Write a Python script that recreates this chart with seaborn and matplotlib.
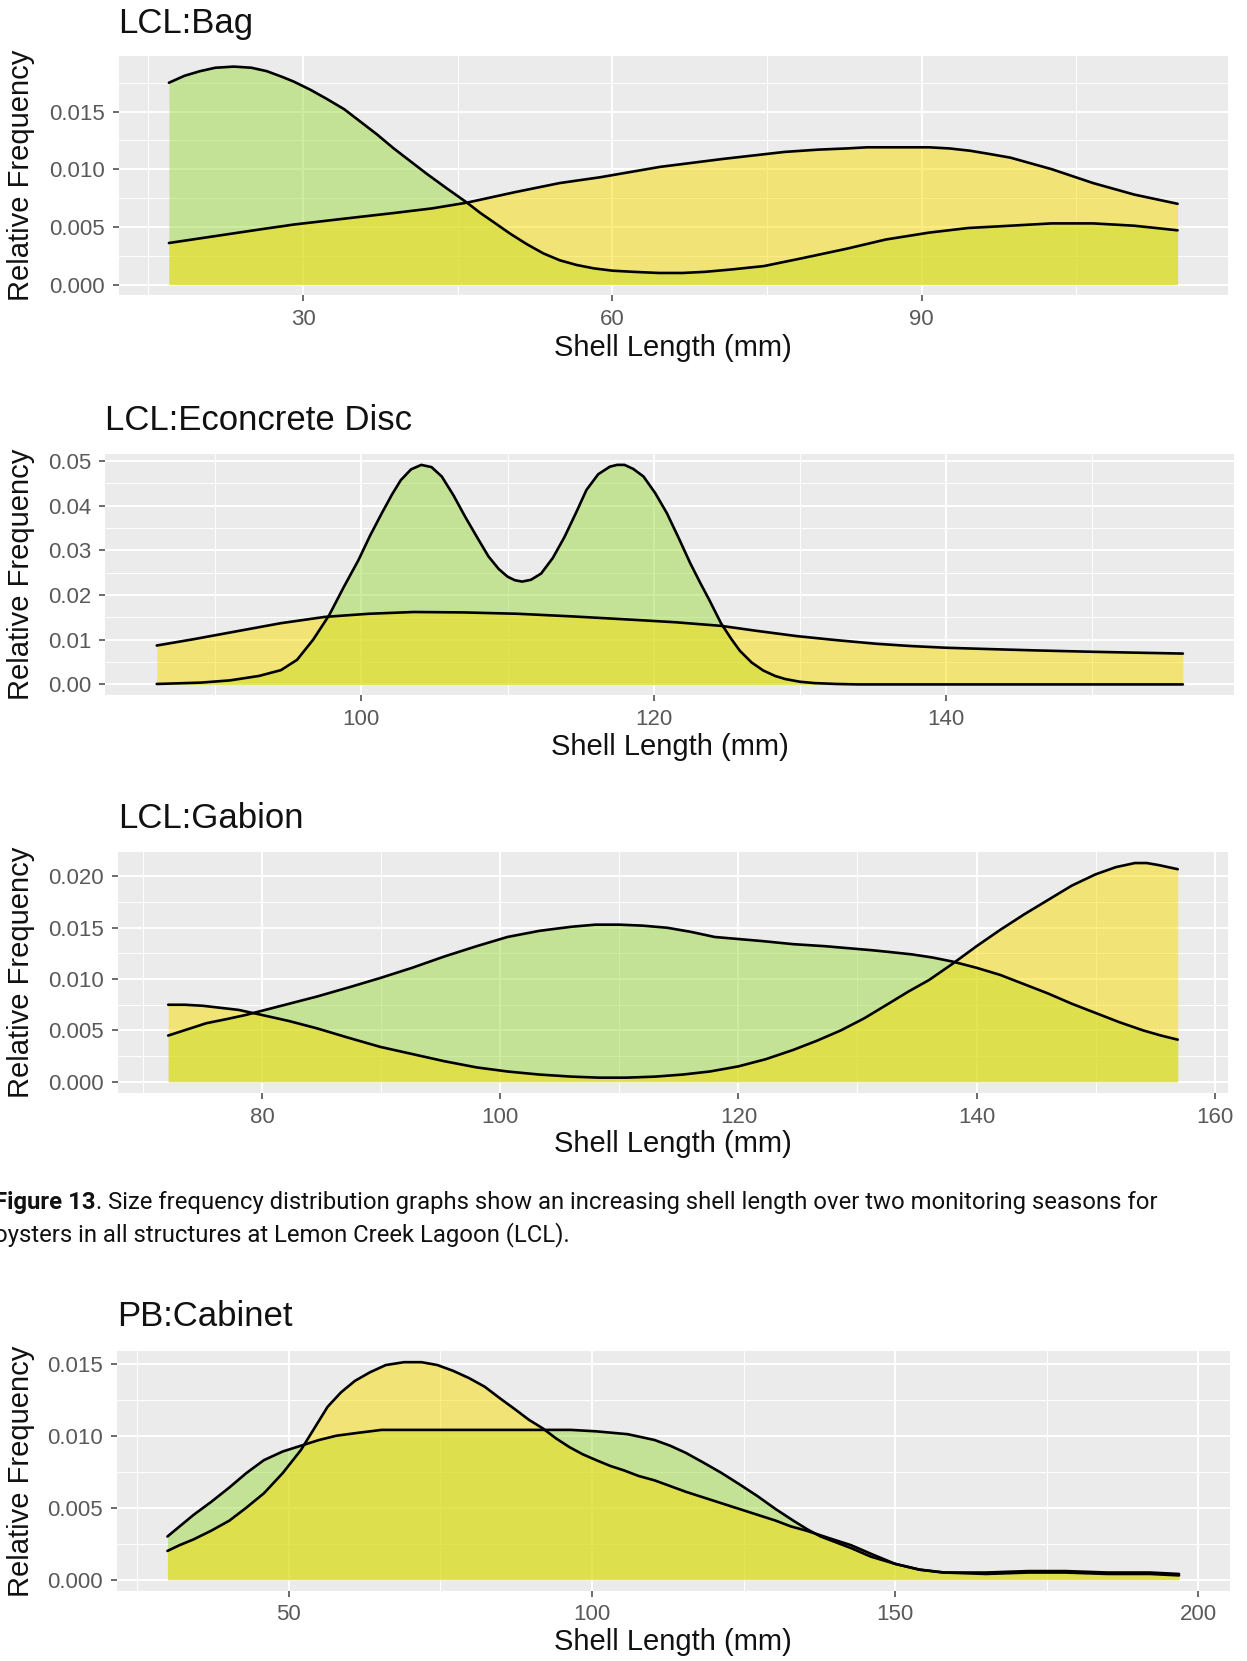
import matplotlib
matplotlib.use("Agg")
import matplotlib.pyplot as plt
import numpy as np
import pandas as pd
import seaborn as sns
from matplotlib.ticker import MultipleLocator, FormatStrFormatter

# ---------------- density curves: shell length (mm) vs relative frequency ----------------
# LCL:Bag
bag_len_s1 = [17.0, 18.5, 20.0, 21.5, 23.3, 25.0, 26.5, 28.0, 29.1, 30.7, 32.3, 34.0, 35.6, 37.2,
              38.8, 40.4, 42.0, 44.0, 45.9, 47.2, 48.5, 50.1, 51.7, 53.3, 54.9, 56.5, 58.2, 60.0,
              62.0, 64.5, 66.8, 69.0, 71.5, 74.7, 78.5, 82.7, 86.5, 90.7, 94.5, 98.6, 102.6,
              106.6, 110.6, 114.8]
bag_freq_s1 = [0.0175, 0.0181, 0.0185, 0.0188, 0.0189, 0.0188, 0.0185, 0.0180, 0.0176, 0.0169,
               0.0161, 0.0152, 0.0141, 0.0130, 0.0118, 0.0107, 0.0096, 0.0083, 0.0071, 0.0062,
               0.0054, 0.0044, 0.0035, 0.0027, 0.0021, 0.0017, 0.0014, 0.0012, 0.0011, 0.0010,
               0.0010, 0.0011, 0.0013, 0.0016, 0.0023, 0.0031, 0.0039, 0.0045, 0.0049, 0.0051,
               0.0053, 0.0053, 0.0051, 0.0047]
bag_len_s2 = [17.0, 20.0, 23.0, 26.0, 29.1, 33.9, 38.8, 42.5, 45.9, 50.5, 54.9, 58.8, 64.6, 70.8,
              76.7, 80.0, 82.7, 84.7, 86.7, 88.7, 90.7, 92.7, 94.7, 96.7, 98.6, 100.6, 102.6,
              104.6, 106.6, 108.6, 110.6, 112.7, 114.8]
bag_freq_s2 = [0.0036, 0.0040, 0.0044, 0.0048, 0.0052, 0.0057, 0.0062, 0.0066, 0.0071, 0.0080,
               0.0088, 0.0093, 0.0102, 0.0109, 0.0115, 0.0117, 0.0118, 0.0119, 0.0119, 0.0119,
               0.0119, 0.0118, 0.0116, 0.0113, 0.0110, 0.0105, 0.0100, 0.0094, 0.0088, 0.0083,
               0.0078, 0.0074, 0.0070]

# LCL:Econcrete Disc
disc_len_s1 = [86.0, 89.0, 91.0, 93.0, 94.5, 95.6, 96.7, 97.8, 98.8, 99.8, 100.6, 101.4, 102.1,
               102.7, 103.4, 104.1, 104.8, 105.5, 106.3, 107.1, 107.9, 108.7, 109.4, 110.0, 110.5,
               111.0, 111.6, 112.3, 113.1, 113.9, 114.7, 115.4, 116.2, 117.0, 117.5, 118.0, 118.6,
               119.3, 120.1, 120.9, 121.7, 122.5, 123.2, 123.8, 124.6, 125.3, 125.9, 126.7, 127.5,
               128.3, 129.0, 130.0, 131.0, 132.5, 134.0, 140.0, 150.0, 156.2]
disc_freq_s1 = [0.0001, 0.0004, 0.0009, 0.0019, 0.0032, 0.0055, 0.0100, 0.0155, 0.0218, 0.0278,
                0.0333, 0.0383, 0.0425, 0.0457, 0.0481, 0.0491, 0.0486, 0.0465, 0.0423, 0.0375,
                0.0330, 0.0286, 0.0258, 0.0241, 0.0233, 0.0230, 0.0234, 0.0248, 0.0283, 0.0330,
                0.0385, 0.0435, 0.0470, 0.0487, 0.0491, 0.0491, 0.0482, 0.0465, 0.0428, 0.0383,
                0.0328, 0.0271, 0.0226, 0.0189, 0.0137, 0.0102, 0.0075, 0.0049, 0.0031, 0.0019,
                0.0012, 0.0006, 0.0003, 0.0001, 0.0, 0.0, 0.0, 0.0]
disc_len_s2 = [86.0, 88.5, 91.5, 94.5, 97.5, 100.5, 103.6, 107.0, 110.7, 114.5, 118.9, 121.5, 124.6,
               127.0, 129.8, 132.5, 135.2, 137.5, 140.0, 143.0, 146.2, 150.0, 153.0, 156.2]
disc_freq_s2 = [0.0087, 0.0101, 0.0119, 0.0137, 0.0151, 0.0158, 0.0162, 0.0161, 0.0158, 0.0152,
                0.0144, 0.0139, 0.0131, 0.0120, 0.0108, 0.0099, 0.0091, 0.0086, 0.0082, 0.0079,
                0.0076, 0.0073, 0.0071, 0.0069]

# LCL:Gabion
gab_len_s1 = [72.1, 73.7, 75.3, 77.0, 78.6, 81.6, 84.6, 87.3, 89.9, 92.6, 95.3, 98.0, 100.6, 103.3,
              106.0, 108.0, 110.0, 112.0, 114.0, 116.0, 118.0, 120.0, 122.0, 124.6, 127.3, 129.3,
              131.3, 133.0, 134.6, 136.3, 138.0, 140.0, 142.0, 144.0, 146.0, 148.0, 150.0, 152.0,
              154.0, 155.5, 156.9]
gab_freq_s1 = [0.0045, 0.0051, 0.0057, 0.0061, 0.0065, 0.0074, 0.0083, 0.0092, 0.0101, 0.0111,
               0.0122, 0.0132, 0.0141, 0.0147, 0.0151, 0.0153, 0.0153, 0.0152, 0.0150, 0.0146,
               0.0141, 0.0139, 0.0137, 0.0134, 0.0132, 0.0130, 0.0128, 0.0126, 0.0124, 0.0121,
               0.0117, 0.0111, 0.0104, 0.0095, 0.0086, 0.0076, 0.0067, 0.0058, 0.0050, 0.0045,
               0.0041]
gab_len_s2 = [72.1, 73.5, 75.0, 76.5, 78.0, 80.0, 82.3, 84.6, 87.2, 89.9, 92.6, 95.3, 98.0, 100.6,
              103.3, 106.0, 108.3, 110.6, 113.0, 115.3, 117.6, 120.0, 122.3, 124.6, 126.6, 128.6,
              130.6, 132.6, 134.3, 136.0, 138.0, 140.0, 142.0, 144.0, 146.0, 148.0, 150.0, 151.7,
              153.3, 154.3, 155.3, 156.9]
gab_freq_s2 = [0.0075, 0.0075, 0.0074, 0.0072, 0.0070, 0.0065, 0.0059, 0.0052, 0.0043, 0.0034,
               0.0027, 0.0020, 0.0014, 0.0010, 0.0007, 0.0005, 0.0004, 0.0004, 0.0005, 0.0007,
               0.0010, 0.0015, 0.0022, 0.0031, 0.0040, 0.0050, 0.0062, 0.0076, 0.0088, 0.0099,
               0.0115, 0.0132, 0.0148, 0.0163, 0.0177, 0.0191, 0.0202, 0.0209, 0.0213, 0.0213,
               0.0211, 0.0207]

# PB:Cabinet
cab_len_s1 = [30.0, 32.0, 34.3, 37.2, 40.2, 43.0, 45.9, 49.0, 52.0, 55.0, 57.9, 61.5, 65.3, 72.7,
              82.3, 91.9, 96.5, 100.7, 103.3, 105.9, 108.1, 110.3, 112.9, 115.5, 118.5, 121.4,
              124.4, 127.3, 130.3, 133.2, 135.5, 137.7, 140.2, 142.7, 146.0, 150.0, 154.0, 158.0,
              165.0, 172.0, 178.0, 185.0, 192.0, 196.8]
cab_freq_s1 = [0.0030, 0.0037, 0.0045, 0.0054, 0.0064, 0.0074, 0.0083, 0.0089, 0.0093, 0.0097,
               0.0100, 0.0102, 0.0104, 0.0104, 0.0104, 0.0104, 0.0104, 0.0103, 0.0102, 0.0101,
               0.0099, 0.0097, 0.0093, 0.0088, 0.0081, 0.0074, 0.0066, 0.0058, 0.0049, 0.0041,
               0.0035, 0.0030, 0.0026, 0.0022, 0.0016, 0.0011, 0.0007, 0.0005, 0.0005, 0.0006,
               0.0006, 0.0005, 0.0005, 0.0004]
cab_len_s2 = [30.0, 32.0, 34.3, 37.2, 40.2, 43.0, 45.9, 49.0, 52.0, 54.2, 56.4, 58.6, 60.9, 63.4,
              66.0, 69.0, 71.9, 74.5, 77.1, 79.7, 82.3, 84.8, 87.4, 89.6, 91.9, 94.1, 96.3, 98.5,
              100.7, 103.0, 105.2, 107.7, 110.3, 112.9, 115.5, 119.2, 122.9, 126.6, 130.3, 132.8,
              135.4, 139.0, 142.7, 146.0, 150.0, 154.0, 158.0, 165.0, 172.0, 178.0, 185.0, 192.0,
              196.8]
cab_freq_s2 = [0.0020, 0.0024, 0.0028, 0.0034, 0.0041, 0.0050, 0.0060, 0.0074, 0.0090, 0.0105,
               0.0120, 0.0130, 0.0138, 0.0144, 0.0149, 0.0151, 0.0151, 0.0149, 0.0145, 0.0140,
               0.0134, 0.0126, 0.0118, 0.0111, 0.0105, 0.0098, 0.0092, 0.0087, 0.0083, 0.0079,
               0.0076, 0.0072, 0.0069, 0.0065, 0.0061, 0.0056, 0.0051, 0.0046, 0.0041, 0.0037,
               0.0034, 0.0029, 0.0024, 0.0018, 0.0011, 0.0007, 0.0005, 0.0004, 0.0005, 0.0005,
               0.0004, 0.0004, 0.0003]

panel_titles = ["LCL:Bag", "LCL:Econcrete Disc", "LCL:Gabion", "PB:Cabinet"]
x_tick_steps = [30, 20, 20, 50]
y_tick_steps = [0.005, 0.01, 0.005, 0.005]
y_formats = ["%.3f", "%.2f", "%.3f", "%.3f"]
x_label = "Shell Length (mm)"
y_label = "Relative Frequency"
caption_bold = "Figure 13"
caption_line1 = ". Size frequency distribution graphs show an increasing shell length over two monitoring seasons for"
caption_line2 = "oysters in all structures at Lemon Creek Lagoon (LCL)."

curves = [
    ((bag_len_s1, bag_freq_s1), (bag_len_s2, bag_freq_s2)),
    ((disc_len_s1, disc_freq_s1), (disc_len_s2, disc_freq_s2)),
    ((gab_len_s1, gab_freq_s1), (gab_len_s2, gab_freq_s2)),
    ((cab_len_s1, cab_freq_s1), (cab_len_s2, cab_freq_s2)),
]

# ---------------- styling ----------------
sns.set_theme(style="darkgrid", rc={
    "axes.facecolor": "#EBEBEB",
    "grid.color": "white",
})
plt.rcParams["font.family"] = ["Liberation Sans", "DejaVu Sans"]

W, H = 1247, 1661
DPI = 100
fig = plt.figure(figsize=(W / DPI, H / DPI), dpi=DPI, facecolor="white")

# panel boxes in pixels: left, right, top, bottom
boxes = [
    (118.5, 1228.0, 55.7, 295.4),
    (105.4, 1234.2, 453.9, 695.4),
    (117.7, 1228.2, 852.1, 1092.7),
    (116.9, 1229.6, 1351.3, 1590.6),
]
title_y = [23.3, 420.6, 818.0, 1316.0]
xlabel_y = [347.5, 747.0, 1144.0, 1642.0]

season_colors = ["#9FDB41", "#F9DD05"]
season_names = ["Season 1", "Season 2"]

for i, (box, pair) in enumerate(zip(boxes, curves)):
    L, R, T, B = box
    ax = fig.add_axes([L / W, 1 - B / H, (R - L) / W, (B - T) / H])
    ax.set_facecolor("#EBEBEB")

    frames = []
    for (xs, ys), name in zip(pair, season_names):
        frames.append(pd.DataFrame({"length": xs, "freq": ys, "season": name}))
    df = pd.concat(frames, ignore_index=True)

    for name, color in zip(season_names, season_colors):
        sub = df[df["season"] == name]
        ax.fill_between(sub["length"], 0, sub["freq"], color=color, alpha=0.5, linewidth=0, zorder=2)
        sns.lineplot(data=sub, x="length", y="freq", ax=ax, color="black", linewidth=1.9,
                     sort=False, estimator=None, zorder=3)

    xmin, xmax = df["length"].min(), df["length"].max()
    xr = xmax - xmin
    ymax = df["freq"].max()
    ax.set_xlim(xmin - 0.05 * xr, xmax + 0.05 * xr)
    ax.set_ylim(-0.05 * ymax, ymax * 1.05)

    ax.xaxis.set_major_locator(MultipleLocator(x_tick_steps[i]))
    ax.xaxis.set_minor_locator(MultipleLocator(x_tick_steps[i] / 2))
    ax.yaxis.set_major_locator(MultipleLocator(y_tick_steps[i]))
    ax.yaxis.set_minor_locator(MultipleLocator(y_tick_steps[i] / 2))
    ax.xaxis.set_major_formatter(FormatStrFormatter("%d"))
    ax.yaxis.set_major_formatter(FormatStrFormatter(y_formats[i]))

    ax.grid(which="major", color="white", linewidth=1.4, zorder=0)
    ax.grid(which="minor", color="white", linewidth=0.7, zorder=0)
    ax.set_axisbelow(True)
    for s in ax.spines.values():
        s.set_visible(False)
    ax.tick_params(axis="both", which="major", length=4, width=1.1, color="#444444",
                   labelsize=16, labelcolor="#595959", pad=6, bottom=True, left=True)
    ax.tick_params(axis="both", which="minor", length=0)
    ax.set_xlabel("")
    ax.set_ylabel("")

    fig.text(L / W, 1 - title_y[i] / H, panel_titles[i], fontsize=25, color="#111111",
             ha="left", va="center")
    fig.text((L + R) / 2 / W, 1 - xlabel_y[i] / H, x_label, fontsize=21, color="#111111",
             ha="center", va="center")
    fig.text(21 / W, 1 - (T + B) / 2 / H, y_label, fontsize=21, color="#111111",
             rotation=90, ha="center", va="center")

# ---------------- caption ----------------
cap_font = ["Roboto", "DejaVu Sans"]
cap_size = 17.2
y1 = 1 - 1202 / H
y2 = 1 - 1235 / H
tb = fig.text(-6 / W, y1, caption_bold, fontsize=cap_size, fontweight="bold", family=cap_font,
              color="#111111", ha="left", va="center")
renderer = fig.canvas.get_renderer()
bb = tb.get_window_extent(renderer=renderer)
fig.text(bb.x1 / W, y1, caption_line1, fontsize=cap_size, family=cap_font, color="#111111",
         ha="left", va="center")
fig.text(-6 / W, y2, caption_line2, fontsize=cap_size, family=cap_font, color="#111111",
         ha="left", va="center")

fig.savefig("out.png", dpi=DPI, facecolor="white")
